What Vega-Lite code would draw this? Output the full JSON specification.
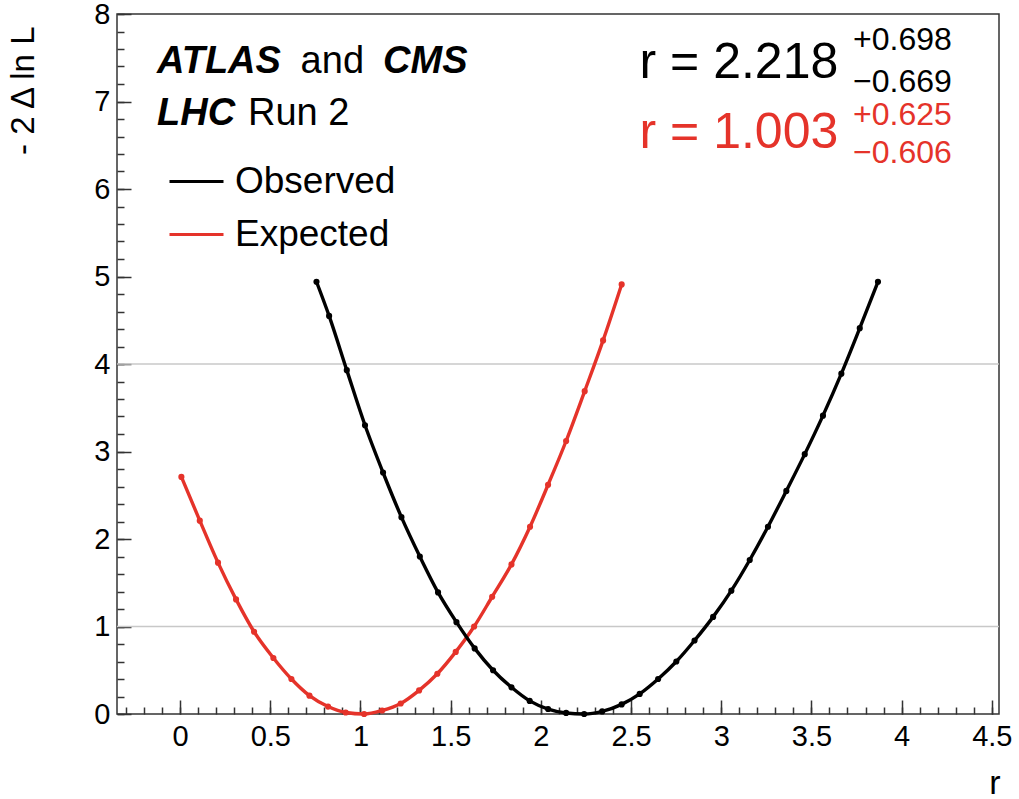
{
  "$schema": "https://vega.github.io/schema/vega-lite/v6.json",
  "width": 882,
  "height": 700,
  "autosize": "none",
  "padding": {"left": 117, "top": 14, "right": 20, "bottom": 85},
  "background": "white",
  "config": {
    "font": "Liberation Sans",
    "view": {"stroke": "#333333", "strokeWidth": 1.5}
  },
  "datasets": {
    "curves": [
      {"series": "Expected", "r": 0.007, "nll": 2.71},
      {"series": "Expected", "r": 0.109, "nll": 2.21},
      {"series": "Expected", "r": 0.21, "nll": 1.73},
      {"series": "Expected", "r": 0.31, "nll": 1.31},
      {"series": "Expected", "r": 0.41, "nll": 0.94},
      {"series": "Expected", "r": 0.517, "nll": 0.64},
      {"series": "Expected", "r": 0.617, "nll": 0.40},
      {"series": "Expected", "r": 0.717, "nll": 0.21},
      {"series": "Expected", "r": 0.82, "nll": 0.085},
      {"series": "Expected", "r": 0.918, "nll": 0.017},
      {"series": "Expected", "r": 1.02, "nll": 0.0},
      {"series": "Expected", "r": 1.12, "nll": 0.04},
      {"series": "Expected", "r": 1.223, "nll": 0.12},
      {"series": "Expected", "r": 1.325, "nll": 0.27},
      {"series": "Expected", "r": 1.426, "nll": 0.46},
      {"series": "Expected", "r": 1.528, "nll": 0.71},
      {"series": "Expected", "r": 1.63, "nll": 1.0},
      {"series": "Expected", "r": 1.73, "nll": 1.34},
      {"series": "Expected", "r": 1.837, "nll": 1.71},
      {"series": "Expected", "r": 1.94, "nll": 2.14},
      {"series": "Expected", "r": 2.04, "nll": 2.62},
      {"series": "Expected", "r": 2.14, "nll": 3.12},
      {"series": "Expected", "r": 2.243, "nll": 3.69},
      {"series": "Expected", "r": 2.345, "nll": 4.27},
      {"series": "Expected", "r": 2.448, "nll": 4.91},
      {"series": "Observed", "r": 0.756, "nll": 4.94},
      {"series": "Observed", "r": 0.826, "nll": 4.55},
      {"series": "Observed", "r": 0.924, "nll": 3.93},
      {"series": "Observed", "r": 1.025, "nll": 3.30},
      {"series": "Observed", "r": 1.125, "nll": 2.76},
      {"series": "Observed", "r": 1.227, "nll": 2.25},
      {"series": "Observed", "r": 1.329, "nll": 1.80},
      {"series": "Observed", "r": 1.43, "nll": 1.39},
      {"series": "Observed", "r": 1.532, "nll": 1.05},
      {"series": "Observed", "r": 1.633, "nll": 0.75},
      {"series": "Observed", "r": 1.735, "nll": 0.50},
      {"series": "Observed", "r": 1.837, "nll": 0.305},
      {"series": "Observed", "r": 1.938, "nll": 0.15},
      {"series": "Observed", "r": 2.04, "nll": 0.057},
      {"series": "Observed", "r": 2.14, "nll": 0.012},
      {"series": "Observed", "r": 2.24, "nll": 0.0},
      {"series": "Observed", "r": 2.34, "nll": 0.03},
      {"series": "Observed", "r": 2.448, "nll": 0.11},
      {"series": "Observed", "r": 2.548, "nll": 0.23},
      {"series": "Observed", "r": 2.65, "nll": 0.40},
      {"series": "Observed", "r": 2.751, "nll": 0.60},
      {"series": "Observed", "r": 2.852, "nll": 0.84},
      {"series": "Observed", "r": 2.955, "nll": 1.11},
      {"series": "Observed", "r": 3.056, "nll": 1.41},
      {"series": "Observed", "r": 3.158, "nll": 1.76},
      {"series": "Observed", "r": 3.259, "nll": 2.14},
      {"series": "Observed", "r": 3.361, "nll": 2.55},
      {"series": "Observed", "r": 3.463, "nll": 2.97},
      {"series": "Observed", "r": 3.564, "nll": 3.41},
      {"series": "Observed", "r": 3.666, "nll": 3.89},
      {"series": "Observed", "r": 3.768, "nll": 4.41},
      {"series": "Observed", "r": 3.869, "nll": 4.94}
    ]
  },
  "layer": [
    {
      "data": {"values": [{"level": 1}, {"level": 4}]},
      "mark": {"type": "rule", "color": "#c8c8c8", "strokeWidth": 1.5},
      "encoding": {
        "y": {"field": "level", "type": "quantitative", "scale": {"domain": [0, 8], "nice": false, "zero": false}, "axis": null}
      }
    },
    {
      "data": {"name": "curves"},
      "mark": {"type": "line", "strokeWidth": 3.4, "interpolate": "monotone"},
      "encoding": {
        "x": {
          "field": "r", "type": "quantitative",
          "scale": {"domain": [-0.35, 4.54], "nice": false, "zero": false},
          "axis": {
            "orient": "bottom",
            "values": [0, 0.5, 1, 1.5, 2, 2.5, 3, 3.5, 4, 4.5],
            "format": "~g", "ticks": false, "domain": false, "grid": false,
            "labelFontSize": 29, "labelPadding": 8, "labelColor": "black", "labelFlush": false, "labelOverlap": false,
            "title": "r", "titleFontSize": 34, "titleFontWeight": "normal", "titleColor": "black",
            "titleX": 883, "titleY": 79, "titleAlign": "right", "titleBaseline": "alphabetic"
          }
        },
        "y": {
          "field": "nll", "type": "quantitative",
          "scale": {"domain": [0, 8], "nice": false, "zero": false},
          "axis": {
            "orient": "left",
            "values": [0, 1, 2, 3, 4, 5, 6, 7, 8],
            "format": "~g", "ticks": false, "domain": false, "grid": false,
            "labelFontSize": 29, "labelPadding": 7, "labelColor": "black", "labelFlush": false, "labelOverlap": false,
            "title": "- 2 Δ ln L", "titleFontSize": 33, "titleFontWeight": "normal", "titleColor": "black",
            "titleX": -84, "titleY": 12, "titleAngle": -90, "titleAlign": "right", "titleBaseline": "alphabetic"
          }
        },
        "color": {
          "field": "series", "type": "nominal",
          "scale": {"domain": ["Observed", "Expected"], "range": ["#000000", "#e5332a"]},
          "legend": {
            "orient": "none", "legendX": 51, "legendY": 139, "title": null,
            "symbolType": "stroke", "symbolSize": 2916, "symbolStrokeWidth": 3,
            "labelFontSize": 37, "labelColor": "black", "labelOffset": 10, "rowPadding": 6, "labelLimit": 400
          }
        }
      }
    },
    {
      "data": {"name": "curves"},
      "mark": {"type": "point", "filled": true, "size": 38, "opacity": 1},
      "encoding": {
        "x": {
          "field": "r", "type": "quantitative",
          "scale": {"domain": [-0.35, 4.54], "nice": false, "zero": false},
          "axis": {
            "orient": "bottom",
            "values": [-0.3, -0.2, -0.1, 0, 0.1, 0.2, 0.3, 0.4, 0.5, 0.6, 0.7, 0.8, 0.9, 1, 1.1, 1.2, 1.3, 1.4, 1.5, 1.6, 1.7, 1.8, 1.9, 2, 2.1, 2.2, 2.3, 2.4, 2.5, 2.6, 2.7, 2.8, 2.9, 3, 3.1, 3.2, 3.3, 3.4, 3.5, 3.6, 3.7, 3.8, 3.9, 4, 4.1, 4.2, 4.3, 4.4, 4.5],
            "labels": false, "domain": false, "grid": false, "tickSize": -7, "tickWidth": 1.5, "tickColor": "#333333", "title": null
          }
        },
        "y": {
          "field": "nll", "type": "quantitative",
          "scale": {"domain": [0, 8], "nice": false, "zero": false},
          "axis": {
            "orient": "left",
            "values": [0, 0.2, 0.4, 0.6, 0.8, 1, 1.2, 1.4, 1.6, 1.8, 2, 2.2, 2.4, 2.6, 2.8, 3, 3.2, 3.4, 3.6, 3.8, 4, 4.2, 4.4, 4.6, 4.8, 5, 5.2, 5.4, 5.6, 5.8, 6, 6.2, 6.4, 6.6, 6.8, 7, 7.2, 7.4, 7.6, 7.8, 8],
            "labels": false, "domain": false, "grid": false, "tickSize": -7, "tickWidth": 1.5, "tickColor": "#333333", "title": null
          }
        },
        "color": {
          "field": "series", "type": "nominal",
          "scale": {"domain": ["Observed", "Expected"], "range": ["#000000", "#e5332a"]}
        }
      }
    },
    {
      "data": {"values": [{}]},
      "mark": {"type": "text", "text": "ATLAS", "fontSize": 38, "fontWeight": "bold", "fontStyle": "italic", "align": "left", "baseline": "alphabetic", "color": "black"},
      "encoding": {
        "x": {
          "datum": -0.128, "type": "quantitative",
          "scale": {"domain": [-0.35, 4.54], "nice": false, "zero": false},
          "axis": {
            "orient": "bottom",
            "values": [0, 0.5, 1, 1.5, 2, 2.5, 3, 3.5, 4, 4.5],
            "labels": false, "domain": false, "grid": false, "tickSize": -14, "tickWidth": 1.5, "tickColor": "#333333", "title": null
          }
        },
        "y": {
          "datum": 7.323, "type": "quantitative",
          "scale": {"domain": [0, 8], "nice": false, "zero": false},
          "axis": {
            "orient": "left",
            "values": [0, 1, 2, 3, 4, 5, 6, 7, 8],
            "labels": false, "domain": false, "grid": false, "tickSize": -14, "tickWidth": 1.5, "tickColor": "#333333", "title": null
          }
        }
      }
    },
    {
      "data": {"values": [{}]},
      "mark": {"type": "text", "text": "and", "fontSize": 38, "align": "left", "baseline": "alphabetic", "color": "black"},
      "encoding": {
        "x": {"datum": 0.668, "type": "quantitative", "axis": null},
        "y": {"datum": 7.323, "type": "quantitative", "axis": null}
      }
    },
    {
      "data": {"values": [{}]},
      "mark": {"type": "text", "text": "CMS", "fontSize": 38, "fontWeight": "bold", "fontStyle": "italic", "align": "left", "baseline": "alphabetic", "color": "black"},
      "encoding": {
        "x": {"datum": 1.125, "type": "quantitative", "axis": null},
        "y": {"datum": 7.323, "type": "quantitative", "axis": null}
      }
    },
    {
      "data": {"values": [{}]},
      "mark": {"type": "text", "text": "LHC", "fontSize": 38, "fontWeight": "bold", "fontStyle": "italic", "align": "left", "baseline": "alphabetic", "color": "black"},
      "encoding": {
        "x": {"datum": -0.128, "type": "quantitative", "axis": null},
        "y": {"datum": 6.731, "type": "quantitative", "axis": null}
      }
    },
    {
      "data": {"values": [{}]},
      "mark": {"type": "text", "text": "Run 2", "fontSize": 38, "align": "left", "baseline": "alphabetic", "color": "black"},
      "encoding": {
        "x": {"datum": 0.376, "type": "quantitative", "axis": null},
        "y": {"datum": 6.731, "type": "quantitative", "axis": null}
      }
    },
    {
      "data": {"values": [{}]},
      "mark": {"type": "text", "text": "r = 2.218", "fontSize": 50, "align": "right", "baseline": "alphabetic", "color": "black"},
      "encoding": {
        "x": {"datum": 3.649, "type": "quantitative", "axis": null},
        "y": {"datum": 7.265, "type": "quantitative", "axis": null}
      }
    },
    {
      "data": {"values": [{}]},
      "mark": {"type": "text", "text": "+0.698", "fontSize": 32, "align": "left", "baseline": "alphabetic", "color": "black"},
      "encoding": {
        "x": {"datum": 3.731, "type": "quantitative", "axis": null},
        "y": {"datum": 7.589, "type": "quantitative", "axis": null}
      }
    },
    {
      "data": {"values": [{}]},
      "mark": {"type": "text", "text": "−0.669", "fontSize": 32, "align": "left", "baseline": "alphabetic", "color": "black"},
      "encoding": {
        "x": {"datum": 3.731, "type": "quantitative", "axis": null},
        "y": {"datum": 7.112, "type": "quantitative", "axis": null}
      }
    },
    {
      "data": {"values": [{}]},
      "mark": {"type": "text", "text": "r = 1.003", "fontSize": 50, "align": "right", "baseline": "alphabetic", "color": "#e5332a"},
      "encoding": {
        "x": {"datum": 3.649, "type": "quantitative", "axis": null},
        "y": {"datum": 6.465, "type": "quantitative", "axis": null}
      }
    },
    {
      "data": {"values": [{}]},
      "mark": {"type": "text", "text": "+0.625", "fontSize": 32, "align": "left", "baseline": "alphabetic", "color": "#e5332a"},
      "encoding": {
        "x": {"datum": 3.731, "type": "quantitative", "axis": null},
        "y": {"datum": 6.731, "type": "quantitative", "axis": null}
      }
    },
    {
      "data": {"values": [{}]},
      "mark": {"type": "text", "text": "−0.606", "fontSize": 32, "align": "left", "baseline": "alphabetic", "color": "#e5332a"},
      "encoding": {
        "x": {"datum": 3.731, "type": "quantitative", "axis": null},
        "y": {"datum": 6.294, "type": "quantitative", "axis": null}
      }
    }
  ],
  "resolve": {"axis": {"x": "independent", "y": "independent"}}
}
